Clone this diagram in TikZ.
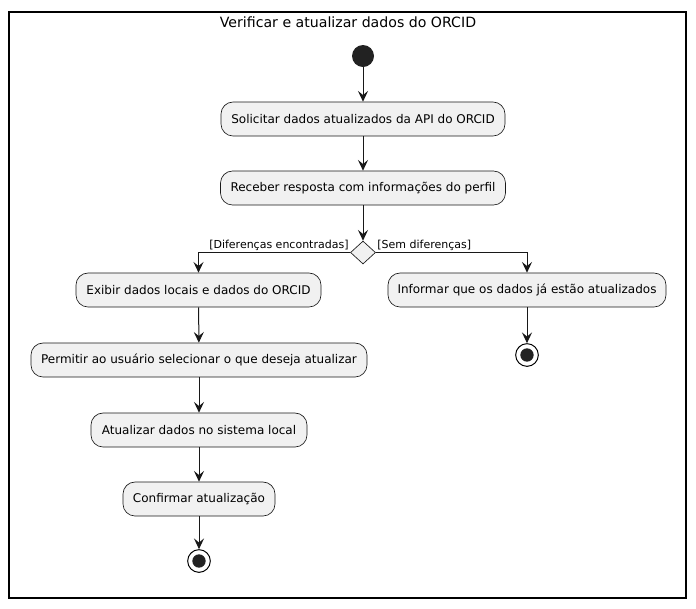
\documentclass[tikz,border=0pt]{standalone}
\usepackage{fontspec}
\setmainfont{DejaVu Sans}
\usetikzlibrary{arrows.meta,shapes.geometric}
\definecolor{boxfill}{HTML}{F1F1F1}
\definecolor{boxline}{HTML}{181818}
\definecolor{dotfill}{HTML}{222222}
\begin{document}
\begin{tikzpicture}[x=0.75pt,y=-0.75pt,
  act/.style={draw=boxline,fill=boxfill,rounded corners=9pt,minimum height=25.5pt,inner sep=0pt,font=\fontsize{9}{11}\selectfont,line width=0.5pt},
  startdot/.style={circle,fill=dotfill,minimum size=16.5pt,inner sep=0pt},
  enddot/.style={circle,draw=black,fill=white,minimum size=17pt,inner sep=0pt,line width=0.75pt},
  innerdot/.style={circle,fill=dotfill,minimum size=10pt,inner sep=0pt},
  dec/.style={diamond,draw=boxline,fill=boxfill,minimum width=18.75pt,minimum height=17.25pt,inner sep=0pt,line width=0.5pt},
  flow/.style={draw=boxline,line width=0.75pt,-{Stealth[length=8pt,width=7.5pt,inset=3pt]}},
  guard/.style={font=\fontsize{8.25}{10}\selectfont}]
\useasboundingbox (0,0) rectangle (696,608);
\draw[line width=0.9pt] (9,12) rectangle (686,598);
\node (title) at (348,22) {\fontsize{10.6}{12}\selectfont Verificar e atualizar dados do ORCID};
\node[startdot] (start) at (363,56) {};
\node[act,minimum width=213pt] (a1) at (363,119) {Solicitar dados atualizados da API do ORCID};
\node[act,minimum width=213.75pt] (a2) at (363,188) {Receber resposta com informações do perfil};
\node[dec] (d) at (363,252.5) {};
\node[act,minimum width=183.75pt] (b1) at (198.5,290) {Exibir dados locais e dados do ORCID};
\node[act,minimum width=252pt] (b2) at (199,360) {Permitir ao usuário selecionar o que deseja atualizar};
\node[act,minimum width=162pt] (b3) at (199,430) {Atualizar dados no sistema local};
\node[act,minimum width=114pt] (b4) at (199,499) {Confirmar atualização};
\node[enddot] (e1) at (199,561) {};
\node[innerdot] at (e1) {};
\node[act,minimum width=208.5pt] (c1) at (527,290) {Informar que os dados já estão atualizados};
\node[enddot] (e2) at (527,355) {};
\node[innerdot] at (e2) {};
\draw[flow] (start) -- (a1);
\draw[flow] (a1) -- (a2);
\draw[flow] (a2) -- (d);
\draw[flow] (d.west) -| (b1.north);
\draw[flow] (d.east) -| (c1.north);
\node[guard,anchor=south east,inner sep=1pt] (g1) at ([yshift=0.5pt]d.west) {[Diferenças encontradas]};
\node[guard,anchor=south west,inner sep=1pt] (g2) at ([yshift=0.5pt]d.east) {[Sem diferenças]};
\draw[flow] (b1) -- (b2);
\draw[flow] (b2) -- (b3);
\draw[flow] (b3) -- (b4);
\draw[flow] (b4) -- (e1);
\draw[flow] (c1) -- (e2);
\end{tikzpicture}
\end{document}
